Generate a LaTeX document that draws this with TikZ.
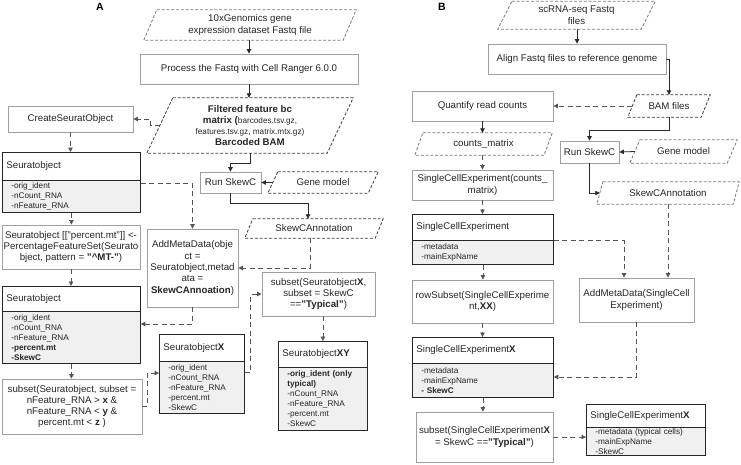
\documentclass[tikz,border=0pt]{standalone}
\usepackage{fontspec}
\setmainfont{Liberation Sans}
\usetikzlibrary{arrows.meta}
\definecolor{bodyfill}{HTML}{F0F0F0}
\definecolor{procline}{HTML}{A0A0A0}
\definecolor{conn}{HTML}{2A2A2A}
\definecolor{dashc}{HTML}{555555}
\definecolor{iodark}{HTML}{3A3A3A}
\definecolor{iolight}{HTML}{7A7A7A}
\newcommand{\mainf}{\fontsize{9.7}{11.3}\selectfont}
\newcommand{\smallf}{\fontsize{8.2}{10}\selectfont}
% process box: name, x1, y1, x2, y2, text
\newcommand{\PBox}[6]{%
  \pgfmathsetmacro\bw{#4-#2}\pgfmathsetmacro\bh{#5-#3}%
  \node[proc, minimum width=\bw pt, minimum height=\bh pt] (#1) at ({(#2+#4)/2},{(#3+#5)/2}) {#6};}
% class box: name, x1, y1, ymid, x2, y2, header, items
\newcommand{\CBox}[8]{%
  \pgfmathsetmacro\hw{#5-#2-8}\pgfmathsetmacro\bw{#5-#2-18}%
  \pgfmathsetmacro\hh{#4-#3}\pgfmathsetmacro\bh{#6-#4}%
  \node[hdr, text width=\hw pt, minimum height=\hh pt, anchor=north west] (#1h) at (#2,#3) {#7};
  \node[bdy, text width=\bw pt, minimum height=\bh pt, anchor=north west] (#1b) at (#2,#4) {#8};}
% parallelogram: name, x1, y1, x2, y2, slant, style, text
\newcommand{\IOBox}[8]{%
  \pgfmathsetmacro\bw{#4-#2}\pgfmathsetmacro\bh{#5-#3}%
  \node[io, minimum width=\bw pt, minimum height=\bh pt] (#1) at ({(#2+#4)/2},{(#3+#5)/2}) {#8};
  \draw[#7] ([xshift=#6pt]#1.north west) -- (#1.north east) -- ([xshift=-#6pt]#1.south east) -- (#1.south west) -- cycle;}
\begin{document}
\begin{tikzpicture}[x=1pt,y=-1pt,
  proc/.style={draw=procline, line width=0.8pt, fill=white, inner sep=1pt, align=center, font=\mainf, text=black!85},
  hdr/.style={draw=black!85, line width=0.8pt, fill=white, inner xsep=4pt, inner ysep=0pt, align=left, font=\mainf, text=black!85},
  bdy/.style={draw=black!85, line width=0.8pt, fill=bodyfill, inner xsep=9pt, inner ysep=0pt, align=left, font=\smallf, text=black!85},
  io/.style={inner sep=0pt, align=center, font=\mainf, text=black!85},
  ioA/.style={draw=iodark, line width=0.8pt, dash pattern=on 3pt off 1.8pt},
  ioB/.style={draw=iolight, line width=0.8pt, dash pattern=on 3pt off 1.8pt},
  arr/.style={draw=conn, line width=0.8pt, -{Triangle[length=4.5pt,width=4.5pt]}},
  darr/.style={arr, draw=dashc, dash pattern=on 5pt off 3.5pt},
  lab/.style={font=\bfseries\fontsize{10.5}{12}\selectfont},
]
\useasboundingbox (0,0) rectangle (741,464);
\node[lab] (labA) at (100,7) {A};
\node[lab] (labB) at (442,7) {B};

% ---------------- Panel A ----------------
\IOBox{pA}{144}{10}{356}{40}{13}{ioB}{10xGenomics gene\\expression dataset Fastq file}
\PBox{procA}{140}{54}{358}{84}{Process the Fastq with Cell Ranger 6.0.0}
\IOBox{filt}{147}{98}{353}{153}{26}{ioA}{\textbf{Filtered feature bc}\\\textbf{matrix (}{\smallf barcodes.tsv.gz,}\\{\smallf features.tsv.gz, matrix.mtx.gz)}\\\textbf{Barcoded BAM}}
\PBox{cso}{8}{106}{133}{132}{CreateSeuratObject}
\CBox{soA}{2}{152}{180}{140}{212}{Seuratobject}{-orig\_ident\\-nCount\_RNA\\-nFeature\_RNA}
\PBox{perc}{2}{225}{140}{269}{Seuratobject [["percent.mt"]] <-\\PercentageFeatureSet(Seurato\\bject, pattern = \textbf{"\textasciicircum MT-"})}
\CBox{soB}{2}{286}{311}{140}{363}{Seuratobject}{-orig\_ident\\-nCount\_RNA\\-nFeature\_RNA\\\textbf{-percent.mt}\\\textbf{-SkewC}}
\PBox{subA}{2}{379}{142}{434}{subset(Seuratobject, subset =\\nFeature\_RNA > \textbf{x} \&\\nFeature\_RNA < \textbf{y} \&\\percent.mt < \textbf{z} )}
\PBox{runA}{200}{172}{261}{193}{Run SkewC}
\IOBox{gmA}{268}{172}{378}{193}{10}{ioA}{Gene model}
\IOBox{sanA}{245}{219}{383}{238}{8}{ioA}{SkewCAnnotation}
\PBox{amdA}{147}{229}{238}{307}{AddMetaData(obje\\ct =\\Seuratobject,metad\\ata =\\\textbf{SkewCAnnoation})}
\PBox{subX}{262}{272}{375}{316}{subset(Seuratobject\textbf{X},\\subset = SkewC\\==\textbf{"Typical"})}
\CBox{soX}{159}{334}{361}{244}{413}{Seuratobject\textbf{X}}{-orig\_ident\\-nCount\_RNA\\-nFeature\_RNA\\-percent.mt\\-SkewC}
\CBox{soXY}{278}{341}{367}{367}{430}{Seuratobject\textbf{XY}}{\textbf{-orig\_ident (only}\\\textbf{typical)}\\-nCount\_RNA\\-nFeature\_RNA\\-percent.mt\\-SkewC}

\draw[arr] (procA.north |- pA.south) -- (procA.north);
\draw[arr] (procA.south) -- (procA.south |- filt.north);
\draw[darr] ([xshift=13pt]filt.west) -- ++(-9,0) |- (cso.east);
\draw[darr] (cso.south) -- (cso.south |- soAh.north);
\draw[darr] (soAb.south) -- (soAb.south |- perc.north);
\draw[darr] (perc.south) -- (perc.south |- soBh.north);
\draw[darr] (soBb.south) -- (soBb.south |- subA.north);
\draw[darr] ([yshift=-2.5pt]soAh.south east) -| (amdA.north);
\draw[arr] (filt.south) -- ++(0,10) -| (runA.north);
\draw[arr] ([xshift=5pt]gmA.west) -- (runA.east);
\draw[arr] (runA.south) -- ++(0,10) -| ([xshift=-6pt]sanA.north);
\draw[darr] ([xshift=-4pt]sanA.south) |- (amdA.east);
\draw[darr] (amdA.south) |- ([yshift=-13pt]soBb.north east);
\draw[darr] (subA.east) -- ++(5,0) |- ([yshift=-12pt]soXb.north west);
\draw[darr] ([yshift=-11pt]soXb.north east) -- ++(6,0) |- (subX.west);
\draw[darr] (soXYh.north |- subX.south) -- (soXYh.north);

% ---------------- Panel B ----------------
\IOBox{pB}{498}{1.5}{655}{29}{14}{ioB}{scRNA-seq Fastq\\files}
\PBox{align}{488}{44}{666}{74}{Align Fastq files to reference genome}
\PBox{quant}{412}{91}{553}{121}{Quantify read counts}
\IOBox{bam}{628}{95}{710}{117}{9}{ioA}{BAM files}
\IOBox{counts}{415}{133}{552}{155}{8}{ioB}{counts\_matrix}
\PBox{runB}{560}{141}{619}{163}{Run SkewC}
\IOBox{gmB}{630}{140}{737}{163}{10}{ioB}{Gene model}
\IOBox{sanB}{597}{182}{739}{204}{6}{ioB}{SkewCAnnotation}
\PBox{sceC}{412}{170}{553}{200}{SingleCellExperiment(counts\_\\matrix)}
\CBox{sce}{412}{214}{240}{553}{264}{SingleCellExperiment}{-metadata\\-mainExpName}
\PBox{rowS}{412}{280}{553}{323}{rowSubset(SingleCellExperime\\nt,\textbf{XX})}
\PBox{amdB}{579}{278}{694}{322}{AddMetaData(SingleCell\\Experiment)}
\CBox{sceX}{412}{337}{363}{553}{397}{SingleCellExperiment\textbf{X}}{-metadata\\-mainExpName\\\textbf{- SkewC}}
\PBox{subB}{416}{412}{553}{462}{subset(SingleCellExperiment\textbf{X}\\= SkewC ==\textbf{"Typical"})}
\CBox{fin}{586}{404}{427}{705}{455}{SingleCellExperiment\textbf{X}}{-metadata (typical cells)\\-mainExpName\\-SkewC}

\draw[arr] (align.north |- pB.south) -- (align.north);
\draw[arr] (align.east) -| (bam.north);
\draw[darr] ([xshift=4.5pt]bam.west) -- (quant.east);
\draw[arr] (bam.south) -- ++(0,13) -| (runB.north);
\draw[arr] ([xshift=5pt]gmB.west) -- (runB.east);
\draw[arr] (runB.south) |- ([xshift=3pt]sanB.west);
\draw[darr] (sanB.south) -- (sanB.south |- amdB.north);
\draw[arr] (quant.south) -- (quant.south |- counts.north);
\draw[darr] (quant.south |- counts.south) -- (quant.south |- sceC.north);
\draw[darr] (sceC.south) -- (sceC.south |- sceh.north);
\draw[darr] (sceb.south) -- (sceb.south |- rowS.north);
\draw[darr] (rowS.south) -- (rowS.south |- sceXh.north);
\draw[darr] (sceXb.south) -- (sceXb.south |- subB.north);
\draw[darr] (sceh.south east) -| ([xshift=-12.5pt]amdB.north);
\draw[darr] (amdB.south) |- ([yshift=-14pt]sceXb.north east);
\draw[darr] (subB.east) -- (subB.east -| finb.west);
\end{tikzpicture}
\end{document}
